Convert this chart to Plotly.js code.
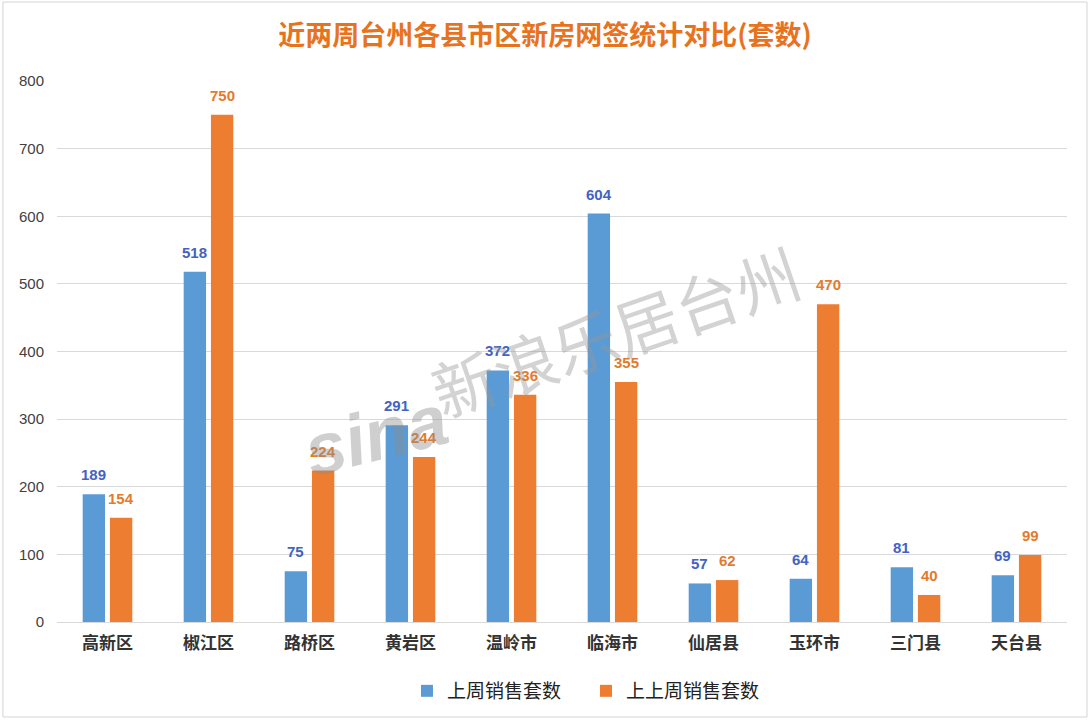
<!DOCTYPE html>
<html>
<head>
<meta charset="utf-8">
<script src="https://cdn.plot.ly/plotly-3.0.1.min.js"></script>
<style>html,body{margin:0;padding:0;background:#fff;}#chart{width:1090px;height:723px;}</style>
</head>
<body>
<div id="chart"></div>
<script>
const categories = ["高新区","椒江区","路桥区","黄岩区","温岭市","临海市","仙居县","玉环市","三门县","天台县"];
const lastWeek = [189, 518, 75, 291, 372, 604, 57, 64, 81, 69];
const weekBefore = [154, 750, 224, 244, 336, 355, 62, 470, 40, 99];
const seriesNames = ["上周销售套数", "上上周销售套数"];
const yTicks = [0, 100, 200, 300, 400, 500, 600, 700, 800];

const cjk = "'Noto Sans CJK SC', 'Microsoft YaHei', sans-serif";
const latin = "Arial, 'Liberation Sans', sans-serif";
const blue = "#5B9BD5", orange = "#ED7D31";
const blueText = "#4263C2", orangeText = "#E37A2C";

const bargap = 0.46;
const plotW = 1010;
const catW = plotW / categories.length;
const off = catW * (1 - bargap) / 4;

const traces = [
  {type: "bar", name: seriesNames[0], x: categories, y: lastWeek, marker: {color: blue}},
  {type: "bar", name: seriesNames[1], x: categories, y: weekBefore, marker: {color: orange}}
];

const labelAnn = [];
[[lastWeek, -off, blueText], [weekBefore, off, orangeText]].forEach(([vals, dx, col]) => {
  vals.forEach((v, i) => {
    labelAnn.push({
      xref: "x", yref: "y", x: categories[i], y: v, text: "<b>" + v + "</b>",
      showarrow: false, xanchor: "center", yanchor: "bottom", xshift: dx, yshift: 9,
      font: {family: latin, size: 15, color: col}
    });
  });
});

const layout = {
  width: 1090, height: 723,
  margin: {l: 57, r: 23, t: 81, b: 101},
  paper_bgcolor: "#fff", plot_bgcolor: "#fff",
  title: {text: "<b>近两周台州各县市区新房网签统计对比(套数)</b>", x: 0.5, xanchor: "center", y: 0.951, yanchor: "middle",
          font: {family: cjk, size: 27, color: "#E8731E"}},
  barmode: "group", bargap: bargap, bargroupgap: 0.18,
  xaxis: {
    type: "category", showgrid: false, zeroline: false, showline: false, ticks: "",
    tickfont: {family: cjk, size: 17, color: "#333", weight: "bold"}, ticklabelstandoff: 9
  },
  yaxis: {
    range: [0, 800], tickvals: yTicks, ticktext: yTicks.map(String),
    showgrid: true, gridcolor: "#D9D9D9", gridwidth: 1, zeroline: true, zerolinecolor: "#D9D9D9",
    tickfont: {family: latin, size: 15, color: "#404040"},
    ticklabelstandoff: 12, fixedrange: true
  },
  showlegend: true,
  legend: {orientation: "h", x: 0.3465, xanchor: "left", y: -0.1275, yanchor: "middle",
           font: {family: cjk, size: 19, color: "#222"}, itemwidth: 30, traceorder: "normal",
           entrywidthmode: "pixels", entrywidth: 134},
  shapes: [
    {type: "rect", xref: "paper", yref: "paper", x0: -0.0535, x1: 1.0198, y0: -0.1756, y1: 1.146,
     line: {color: "#D4D4D4", width: 1}, layer: "below"}
  ],
  annotations: labelAnn.concat([
    {xref: "paper", yref: "paper", x: 0.552, y: 0.54, text: "新浪乐居台州", showarrow: false, textangle: -19,
     font: {family: cjk, size: 64, color: "rgba(150,150,150,0.42)"}},
    {xref: "paper", yref: "paper", x: 0.235, y: 0.345, text: "<b><i>sina</i></b>", showarrow: false, textangle: -14,
     font: {family: latin, size: 72, color: "rgba(140,140,140,0.42)"}}
  ])
};

Plotly.newPlot("chart", traces, layout, {displayModeBar: false, staticPlot: true});
</script>
</body>
</html>
